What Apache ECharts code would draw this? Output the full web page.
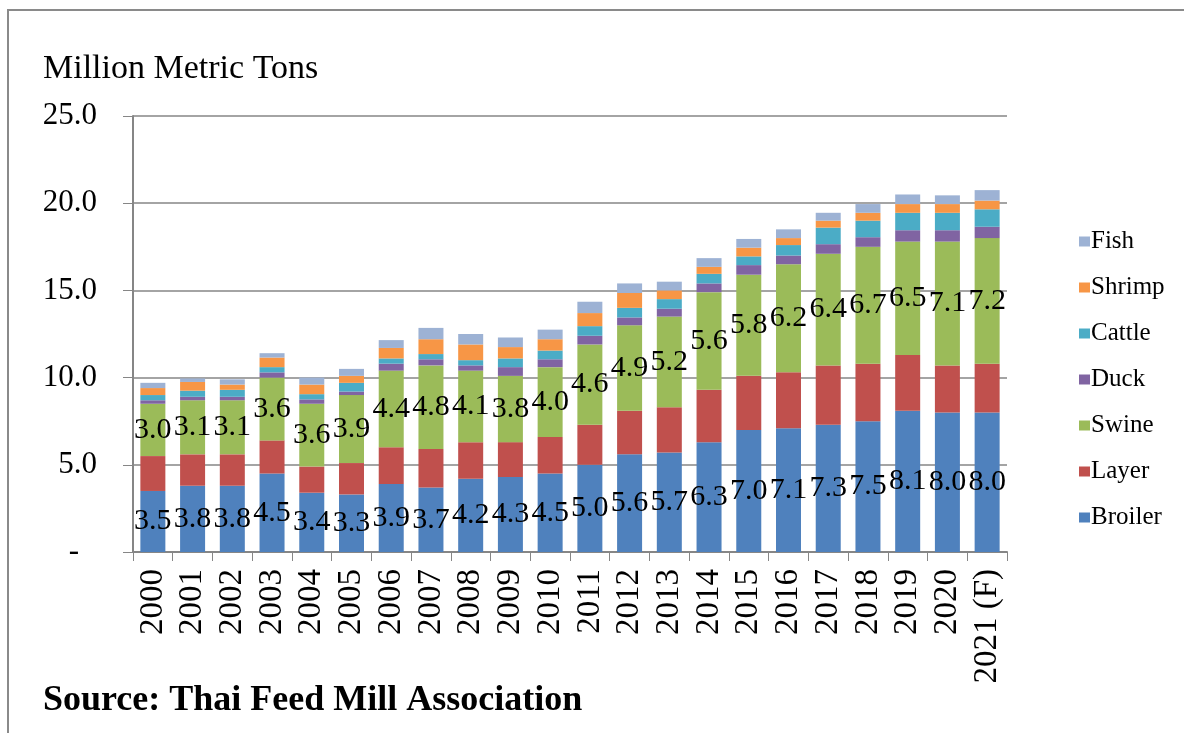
<!DOCTYPE html>
<html>
<head>
<meta charset="utf-8">
<script src="https://cdn.jsdelivr.net/npm/echarts@6/dist/echarts.min.js"></script>
<style>
    html, body { margin: 0; padding: 0; background: #fff; }
    #feed { position: absolute; left: 0; top: 0; width: 1184px; height: 733px; }
    #frame { position: absolute; left: 7px; top: 9px; width: 1177px; height: 724px;
             border-top: 2px solid #8a8a8a; border-left: 2px solid #8a8a8a; pointer-events: none; }
</style>
</head>
<body>
<div id="feed"></div>
<div id="frame"></div>
<script>
var years = ['2000','2001','2002','2003','2004','2005','2006','2007','2008','2009','2010',
             '2011','2012','2013','2014','2015','2016','2017','2018','2019','2020','2021 (F)'];

var broiler = [3.5, 3.8, 3.8, 4.5, 3.4, 3.3, 3.9, 3.7, 4.2, 4.3, 4.5, 5.0, 5.6, 5.7, 6.3, 7.0, 7.1, 7.3, 7.5, 8.1, 8.0, 8.0];
var layer   = [2.0, 1.8, 1.8, 1.9, 1.5, 1.8, 2.1, 2.2, 2.1, 2.0, 2.1, 2.3, 2.5, 2.6, 3.0, 3.1, 3.2, 3.4, 3.3, 3.2, 2.7, 2.8];
var swine   = [3.0, 3.1, 3.1, 3.6, 3.6, 3.9, 4.4, 4.8, 4.1, 3.8, 4.0, 4.6, 4.9, 5.2, 5.6, 5.8, 6.2, 6.4, 6.7, 6.5, 7.1, 7.2];
var duck    = [0.2, 0.2, 0.2, 0.3, 0.25, 0.2, 0.4, 0.35, 0.3, 0.5, 0.45, 0.5, 0.45, 0.45, 0.5, 0.55, 0.5, 0.55, 0.55, 0.65, 0.65, 0.65];
var cattle  = [0.3, 0.35, 0.4, 0.3, 0.3, 0.5, 0.3, 0.3, 0.3, 0.5, 0.5, 0.55, 0.55, 0.55, 0.55, 0.5, 0.6, 0.95, 0.95, 1.0, 1.0, 1.0];
var shrimp  = [0.4, 0.5, 0.3, 0.55, 0.55, 0.4, 0.6, 0.85, 0.9, 0.65, 0.65, 0.75, 0.85, 0.5, 0.4, 0.5, 0.4, 0.4, 0.45, 0.5, 0.5, 0.5];
var fish    = [0.3, 0.2, 0.3, 0.25, 0.4, 0.4, 0.45, 0.65, 0.6, 0.55, 0.55, 0.65, 0.55, 0.5, 0.5, 0.5, 0.5, 0.45, 0.5, 0.55, 0.5, 0.6];

var legendOrder = ['Fish', 'Shrimp', 'Cattle', 'Duck', 'Swine', 'Layer', 'Broiler'];

var serif = '"Liberation Serif", "DejaVu Serif", serif';

var feedChart = echarts.init(document.getElementById('feed'));

function part(name, data, color, showLabel) {
    return {
        name: name,
        type: 'bar',
        stack: 'total',
        barWidth: 25,
        data: data,
        itemStyle: { color: color },
        label: {
            show: showLabel,
            position: 'inside',
            color: '#000',
            fontFamily: serif,
            fontSize: 30,
            formatter: function (p) { return p.value.toFixed(1); }
        },
        emphasis: { disabled: true }
    };
}

var feedOption = {
    animation: false,
    textStyle: { fontFamily: serif },
    title: [{
        text: 'Million Metric Tons',
        left: 38,
        top: 47,
        textStyle: { fontFamily: serif, fontSize: 34, fontWeight: 'normal', color: '#000' }
    }, {
        text: 'Source: Thai Feed Mill Association',
        left: 38,
        top: 678,
        textStyle: { fontFamily: serif, fontSize: 36, fontWeight: 'bold', color: '#000' }
    }],
    legend: {
        orient: 'vertical',
        left: 1074,
        top: 224,
        data: legendOrder,
        icon: 'rect',
        itemWidth: 11,
        itemHeight: 10,
        itemGap: 21,
        selectedMode: false,
        textStyle: { fontFamily: serif, fontSize: 25, color: '#000', padding: [0, 0, 0, -4] }
    },
    grid: {
        left: 133,
        right: 177,
        top: 116,
        bottom: 181,
        containLabel: false
    },
    xAxis: {
        type: 'category',
        data: years,
        axisLine: { lineStyle: { color: '#868686', width: 2 } },
        axisTick: { show: true, length: 9, lineStyle: { color: '#868686' } },
        axisLabel: {
            rotate: 90,
            interval: 0,
            margin: 17,
            color: '#000',
            fontFamily: serif,
            fontSize: 33
        }
    },
    yAxis: {
        type: 'value',
        min: 0,
        max: 25,
        interval: 5,
        axisLine: { show: true, lineStyle: { color: '#868686', width: 2 } },
        axisTick: { show: true, length: 10, lineStyle: { color: '#868686' } },
        splitLine: { lineStyle: { color: '#868686', width: 1.5 } },
        axisLabel: {
            margin: 36,
            color: '#000',
            fontFamily: serif,
            fontSize: 31,
            formatter: function (v) { return v === 0 ? '{d|-}' : v.toFixed(1); },
            rich: { d: { fontFamily: serif, fontSize: 31, color: '#000', padding: [0, 18, 0, 0] } }
        }
    },
    series: [
        part('Broiler', broiler, '#4F81BD', true),
        part('Layer', layer, '#C0504D', false),
        part('Swine', swine, '#9BBB59', true),
        part('Duck', duck, '#8064A2', false),
        part('Cattle', cattle, '#4BACC6', false),
        part('Shrimp', shrimp, '#F79646', false),
        part('Fish', fish, '#9DB2D4', false)
    ]
};

feedChart.setOption(feedOption);
</script>
</body>
</html>
